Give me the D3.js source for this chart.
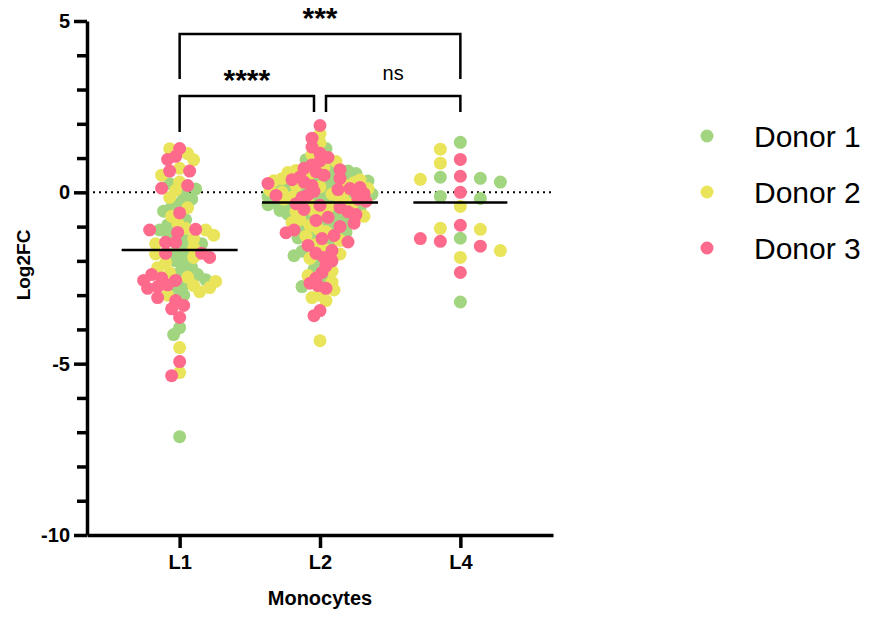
<!DOCTYPE html>
<html>
<head>
<meta charset="utf-8">
<script src="https://cdn.jsdelivr.net/npm/d3@7"></script>
<style>
  body { margin: 0; background: #fff; }
  text { font-family: "Liberation Sans", Arial, Helvetica, sans-serif; }
</style>
</head>
<body>
<div id="chart"></div>
<script>
// Groups and donors
const groups = ['L1', 'L2', 'L4'];
const donors = ['Donor 1', 'Donor 2', 'Donor 3'];
const colors = ['#a2d57f', '#e9e45a', '#fd6a8c'];

// Log2FC values, one list per group and donor
const l1Donor1 = [0.25, 0.1, -0.08, -0.2, -0.32, -0.43, -0.55, -0.8, -0.95, -1.1, -1.2, -1.35, -1.5, -1.6,
  -1.75, -1.85, -2.0, -2.1, -2.2, -2.35, -2.4, -2.55, -2.7, -2.85, -3.0, -3.95, -4.15, -7.13];
const l1Donor2 = [1.27, 1.13, 0.95, 0.7, 0.5, 0.3, 0.06, -0.15, -0.45, -0.7, -0.9, -1.05, -1.1, -1.25, -1.35,
  -1.5, -1.62, -1.8, -1.9, -2.05, -2.2, -2.35, -2.48, -2.6, -2.72, -2.78, -2.9, -3.0, -4.53, -5.26];
const l1Donor3 = [1.28, 1.05, 0.96, 0.62, 0.62, 0.2, 0.12, -0.6, -1.08, -1.1, -1.17, -1.46, -1.46, -1.78, -1.78,
  -1.9, -2.4, -2.5, -2.57, -2.57, -2.7, -2.75, -2.8, -3.07, -3.16, -3.3, -3.4, -3.65, -4.94, -5.35];

const l2Donor1 = [1.28, 0.95, 0.7, 0.62, 0.55, 0.45, 0.4, 0.38, 0.33, 0.3, 0.26, 0.2, 0.15, 0.1, 0.08, 0.05, 0.02,
  -0.03, -0.05, -0.09, -0.12, -0.18, -0.22, -0.27, -0.31, -0.36, -0.4, -0.46, -0.53, -0.58, -0.64, -0.7, -0.77,
  -0.85, -0.92, -1.0, -1.08, -1.17, -1.25, -1.33, -1.45, -1.72, -1.85, -2.05, -2.25, -2.57, -2.75];
const l2Donor2 = [1.7, 1.45, 1.1, 0.9, 0.72, 0.64, 0.58, 0.48, 0.4, 0.36, 0.34, 0.28, 0.22, 0.19, 0.16, 0.11, 0.06,
  0.03, 0.0, -0.05, -0.1, -0.14, -0.2, -0.25, -0.3, -0.35, -0.44, -0.5, -0.56, -0.62, -0.7, -0.8, -0.88, -0.97,
  -1.06, -1.15, -1.28, -1.4, -1.52, -1.65, -1.8, -1.93, -2.3, -2.43, -2.62, -2.85, -3.0, -3.07, -3.16, -4.33];
const l2Donor3 = [1.95, 1.58, 1.32, 1.14, 1.02, 0.92, 0.8, 0.7, 0.66, 0.6, 0.5, 0.45, 0.41, 0.37, 0.3, 0.26,
  0.2, 0.14, 0.11, 0.08, 0.03, 0.0, -0.04, -0.07, -0.09, -0.15, -0.2, -0.26, -0.33, -0.38, -0.44, -0.5, -0.57, -0.65,
  -0.73, -0.82, -0.9, -1.0, -1.1, -1.18, -1.26, -1.35, -1.45, -1.55, -1.7, -1.78, -1.9, -2.0, -2.15, -2.34,
  -2.5, -2.65, -2.72, -2.8, -3.45, -3.6];

const l4Donor1 = [1.46, 0.44, 0.3, 0.41, -0.12, -0.18, -1.34, -3.2];
const l4Donor2 = [1.26, 0.85, 0.38, -0.41, -1.05, -1.08, -1.7, -1.9];
const l4Donor3 = [0.96, 0.47, 0.0, -0.96, -1.35, -1.43, -1.57, -2.34];

const groupValues = {
  L1: [l1Donor1, l1Donor2, l1Donor3],
  L2: [l2Donor1, l2Donor2, l2Donor3],
  L4: [l4Donor1, l4Donor2, l4Donor3]
};

// Significance comparisons
const comparisons = [
  { from: 'L1', to: 'L4', label: '***' },
  { from: 'L1', to: 'L2', label: '****' },
  { from: 'L2', to: 'L4', label: 'ns' }
];

const yMajorTicks = [-10, -5, 0, 5];

const width = 870;
const height = 617;
const r = 6.5;

const svg = d3.select('#chart').append('svg')
    .attr('width', width)
    .attr('height', height);

const x = d3.scalePoint().domain(groups).range([87, 553]).padding(0.66);
const y = d3.scaleLinear().domain([-10, 5]).range([535, 21]);

// swarm settings per group: min distance, step, max half width
const swarmOpts = {
  L1: { d: 8.5, step: 2, half: 42 },
  L2: { d: 7.5, step: 2, half: 52 },
  L4: { d: 13, step: 20, half: 40 }
};

// place points so they dodge each other horizontally
function swarm(points, opts) {
  const placed = [];
  const sorted = points.slice().sort((a, b) => b.value - a.value);
  sorted.forEach(p => {
    const py = y(p.value);
    const offsets = [0];
    for (let k = opts.step; k <= opts.half; k += opts.step) offsets.push(-k, k);
    let chosen = null, best = null, bestDist = -1;
    for (const off of offsets) {
      let minD = Infinity;
      for (const q of placed) {
        const dy = q.py - py;
        if (Math.abs(dy) >= opts.d) continue;
        const dx = q.off - off;
        minD = Math.min(minD, Math.sqrt(dx * dx + dy * dy));
      }
      if (minD >= opts.d) { chosen = off; break; }
      if (minD > bestDist + 0.01) { bestDist = minD; best = off; }
    }
    p.off = chosen !== null ? chosen : best;
    p.py = py;
    placed.push(p);
  });
  return points;
}

const allPoints = [];
groups.forEach(g => {
  const pts = [];
  groupValues[g].forEach((vals, di) => {
    vals.forEach(v => pts.push({ group: g, donor: di, value: v }));
  });
  swarm(pts, swarmOpts[g]);
  allPoints.push(...pts);
});

// dotted zero line
svg.append('line')
    .attr('x1', 87).attr('x2', 553)
    .attr('y1', y(0)).attr('y2', y(0))
    .attr('stroke', '#000')
    .attr('stroke-width', 2)
    .attr('stroke-dasharray', '2,4');

// points, donor by donor so pink ends up on top
svg.append('g').selectAll('circle')
    .data(allPoints.slice().sort((a, b) => a.donor - b.donor))
    .join('circle')
    .attr('cx', d => x(d.group) + d.off)
    .attr('cy', d => d.py)
    .attr('r', r)
    .attr('fill', d => colors[d.donor]);

// medians
svg.append('g').selectAll('line')
    .data(groups)
    .join('line')
    .attr('x1', g => x(g) - (g === 'L4' ? 47 : 58))
    .attr('x2', g => x(g) + (g === 'L4' ? 47 : 58))
    .attr('y1', g => y(d3.median(groupValues[g].flat())))
    .attr('y2', g => y(d3.median(groupValues[g].flat())))
    .attr('stroke', '#000')
    .attr('stroke-width', 2.5);

// y axis
svg.append('g')
    .attr('transform', 'translate(87,0)')
    .call(d3.axisLeft(y).tickValues(yMajorTicks).tickFormat(d => String(d))
      .tickSize(13).tickSizeOuter(0).tickPadding(4));
svg.append('g')
    .attr('transform', 'translate(87,0)')
    .call(d3.axisLeft(y).tickValues(d3.range(-10, 6).filter(v => !yMajorTicks.includes(v))).tickSize(10).tickFormat(''))
    .call(g => g.select('.domain').remove());

// x axis
svg.append('g')
    .attr('transform', 'translate(0,535)')
    .call(d3.axisBottom(x).tickSize(13).tickSizeOuter(0).tickPadding(7));

svg.selectAll('.domain, .tick line')
    .attr('stroke', '#000')
    .attr('stroke-width', 3.5);
svg.selectAll('.tick text')
    .attr('fill', '#000')
    .attr('font-size', 20)
    .attr('font-weight', 'bold')
    .style('font-family', '"Liberation Sans", Arial, sans-serif');

// axis titles
svg.append('text')
    .attr('transform', 'translate(30,265) rotate(-90)')
    .attr('text-anchor', 'middle')
    .attr('font-size', 19)
    .attr('font-weight', 'bold')
    .text('Log2FC');

svg.append('text')
    .attr('x', x('L2'))
    .attr('y', 605)
    .attr('text-anchor', 'middle')
    .attr('font-size', 20)
    .attr('font-weight', 'bold')
    .text('Monocytes');

// significance brackets
const bracketTop = { '***': 34, '****': 96, 'ns': 96 };
const bracketLeg = { '***': [79, 79], '****': [132, 112], 'ns': [112, 112] };
comparisons.forEach(c => {
  const x1 = x(c.from) + (c.label === 'ns' ? 6 : 0);
  const x2 = x(c.to) - (c.label === '****' ? 6 : 0);
  const top = bracketTop[c.label];
  const legs = bracketLeg[c.label];
  svg.append('path')
      .attr('d', `M${x1},${legs[0]}V${top}H${x2}V${legs[1]}`)
      .attr('fill', 'none')
      .attr('stroke', '#000')
      .attr('stroke-width', 2.5);
  svg.append('text')
      .attr('x', (x1 + x2) / 2)
      .attr('y', top - (c.label === 'ns' ? 16 : 6))
      .attr('text-anchor', 'middle')
      .attr('font-size', c.label === 'ns' ? 20 : 30)
      .attr('font-weight', c.label === 'ns' ? 'normal' : 'bold')
      .text(c.label);
});

// legend
const legend = svg.append('g').selectAll('g')
    .data(donors)
    .join('g')
    .attr('transform', (d, i) => `translate(707,${136 + i * 56})`);
legend.append('circle')
    .attr('r', r)
    .attr('fill', (d, i) => colors[i]);
legend.append('text')
    .attr('x', 47)
    .attr('dy', '0.36em')
    .attr('font-size', 30)
    .text(d => d);
</script>
</body>
</html>
